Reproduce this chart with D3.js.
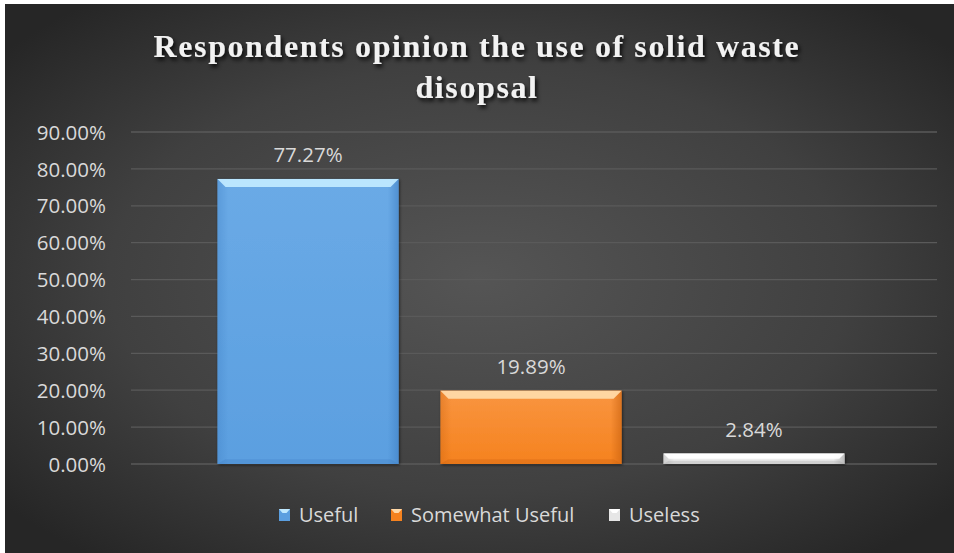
<!DOCTYPE html>
<html><head><meta charset="utf-8">
<script src="https://cdn.jsdelivr.net/npm/d3@7"></script>
<style>html,body{margin:0;padding:0;background:#fff;}svg{display:block;}</style>
</head><body>
<script>
const titleLines = ["Respondents opinion the use of solid waste", "disopsal"];
const seriesNames = ["Useful", "Somewhat Useful", "Useless"];
const seriesValues = [77.27, 19.89, 2.84];
const valueLabels = ["77.27%", "19.89%", "2.84%"];
const tickValues = [0, 10, 20, 30, 40, 50, 60, 70, 80, 90];
const tickLabels = ["0.00%", "10.00%", "20.00%", "30.00%", "40.00%", "50.00%", "60.00%", "70.00%", "80.00%", "90.00%"];
const seriesColors = [
  {top:"#bfe9ff", light:"#6aaae6", mid:"#5b9fe0", dark:"#3f7fc4"},
  {top:"#ffd9a8", light:"#f99540", mid:"#f5821f", dark:"#c8600e"},
  {top:"#ffffff", light:"#f4f4f4", mid:"#e6e6e6", dark:"#9a9a9a"}
];

const W = 954, H = 553;
const svg = d3.select("body").append("svg").attr("width", W).attr("height", H);
const defs = svg.append("defs");

const bg = defs.append("radialGradient").attr("id","bg").attr("cx","50%").attr("cy","50%").attr("r","65%");
bg.append("stop").attr("offset","0%").attr("stop-color","#555555");
bg.append("stop").attr("offset","60%").attr("stop-color","#404040");
bg.append("stop").attr("offset","100%").attr("stop-color","#262626");

const sh = defs.append("filter").attr("id","tshadow").attr("x","-10%").attr("y","-30%").attr("width","120%").attr("height","160%");
sh.append("feDropShadow").attr("dx",2).attr("dy",3).attr("stdDeviation",2).attr("flood-color","#000").attr("flood-opacity",0.85);

const bshadow = defs.append("filter").attr("id","bshadow").attr("x","-10%").attr("y","-10%").attr("width","120%").attr("height","120%");
bshadow.append("feDropShadow").attr("dx",1).attr("dy",1).attr("stdDeviation",1.5).attr("flood-color","#000").attr("flood-opacity",0.6);

seriesColors.forEach((c,i)=>{
  const g = defs.append("linearGradient").attr("id","bar"+i).attr("x1",0).attr("y1",0).attr("x2",0).attr("y2",1);
  g.append("stop").attr("offset","0%").attr("stop-color",c.light);
  g.append("stop").attr("offset","100%").attr("stop-color",c.mid);
  const h = defs.append("linearGradient").attr("id","side"+i).attr("x1",0).attr("y1",0).attr("x2",1).attr("y2",0);
  h.append("stop").attr("offset","0%").attr("stop-color",c.dark).attr("stop-opacity",0.35);
  h.append("stop").attr("offset","6%").attr("stop-color",c.dark).attr("stop-opacity",0);
  h.append("stop").attr("offset","94%").attr("stop-color",c.dark).attr("stop-opacity",0);
  h.append("stop").attr("offset","100%").attr("stop-color",c.dark).attr("stop-opacity",0.6);
});

svg.append("rect").attr("x",5).attr("y",4).attr("width",W-5).attr("height",H-4).attr("fill","url(#bg)");

// Title
const title = svg.append("text").attr("text-anchor","middle")
  .attr("font-family","'Liberation Serif', 'DejaVu Serif', serif").attr("font-weight","bold")
  .attr("font-size",32).attr("letter-spacing",1.6).attr("fill","#f2f2f2").attr("filter","url(#tshadow)");
titleLines.forEach((t,i)=>{
  title.append("tspan").attr("x",477).attr("y",i===0?57:98).text(t);
});

const x0 = 131, x1 = 937;
const y = d3.scaleLinear().domain([0,90]).range([464,132]);
const group = d3.scaleBand().domain(["g"]).range([x0-3,x1-3]).paddingInner(0).paddingOuter(0.1427);
const xs = d3.scaleBand().domain(seriesNames).range([group("g"), group("g")+group.bandwidth()]).paddingInner(0.188).paddingOuter(0);

// gridlines
svg.append("g").selectAll("line").data(tickValues).join("line")
  .attr("x1",x0).attr("x2",x1).attr("y1",d=>y(d)).attr("y2",d=>y(d))
  .attr("stroke","#5a5a5a").attr("stroke-width",1.3);

const fontFam = "'Open Sans', sans-serif";
// y axis
const yAxis = d3.axisLeft(y).tickValues(tickValues).tickFormat((d,i)=>tickLabels[i]).tickSize(0).tickPadding(0);
const ya = svg.append("g").attr("transform","translate(106,0)").call(yAxis);
ya.select(".domain").remove();
ya.selectAll("text").attr("font-family",fontFam).attr("font-size",20.5).attr("fill","#d9d9d9").attr("dy","0.35em");

// bars
const bars = svg.append("g");
seriesNames.forEach((name,i)=>{
  const bx = xs(name), bw = xs.bandwidth(), by = y(seriesValues[i]), bh = y(0)-y(seriesValues[i]);
  const g = bars.append("g");
  g.append("rect").attr("x",bx).attr("y",by).attr("width",bw).attr("height",bh).attr("fill","url(#bar"+i+")").attr("filter","url(#bshadow)");
  g.append("rect").attr("x",bx).attr("y",by).attr("width",bw).attr("height",bh).attr("fill","url(#side"+i+")");
  const bev = Math.min(8, bh/2);
  g.append("polygon").attr("points",[[bx,by],[bx+bw,by],[bx+bw-bev,by+bev],[bx+bev,by+bev]].map(p=>p.join(",")).join(" "))
    .attr("fill",seriesColors[i].top).attr("opacity",0.95);
  g.append("polygon").attr("points",[[bx,y(0)],[bx+bw,y(0)],[bx+bw-bev,y(0)-bev*0.6],[bx+bev,y(0)-bev*0.6]].map(p=>p.join(",")).join(" "))
    .attr("fill",seriesColors[i].dark).attr("opacity",0.3);
  svg.append("text").attr("x",bx+bw/2).attr("y",by-17).attr("text-anchor","middle")
    .attr("font-family",fontFam).attr("font-size",20.5).attr("fill","#d9d9d9").text(valueLabels[i]);
});

// legend
const legendItems = [{x:279},{x:391},{x:609}];
const leg = svg.append("g");
seriesNames.forEach((name,i)=>{
  const lx = legendItems[i].x, ly = 509;
  leg.append("rect").attr("x",lx).attr("y",ly).attr("width",11).attr("height",12).attr("fill",seriesColors[i].mid);
  leg.append("polygon").attr("points",`${lx},${ly} ${lx+11},${ly} ${lx+7.5},${ly+4} ${lx+3.5},${ly+4}`).attr("fill",seriesColors[i].top);
  leg.append("text").attr("x",lx+20).attr("y",522)
    .attr("font-family",fontFam).attr("font-size",20).attr("fill","#d9d9d9").text(name);
});
</script>
</body></html>
